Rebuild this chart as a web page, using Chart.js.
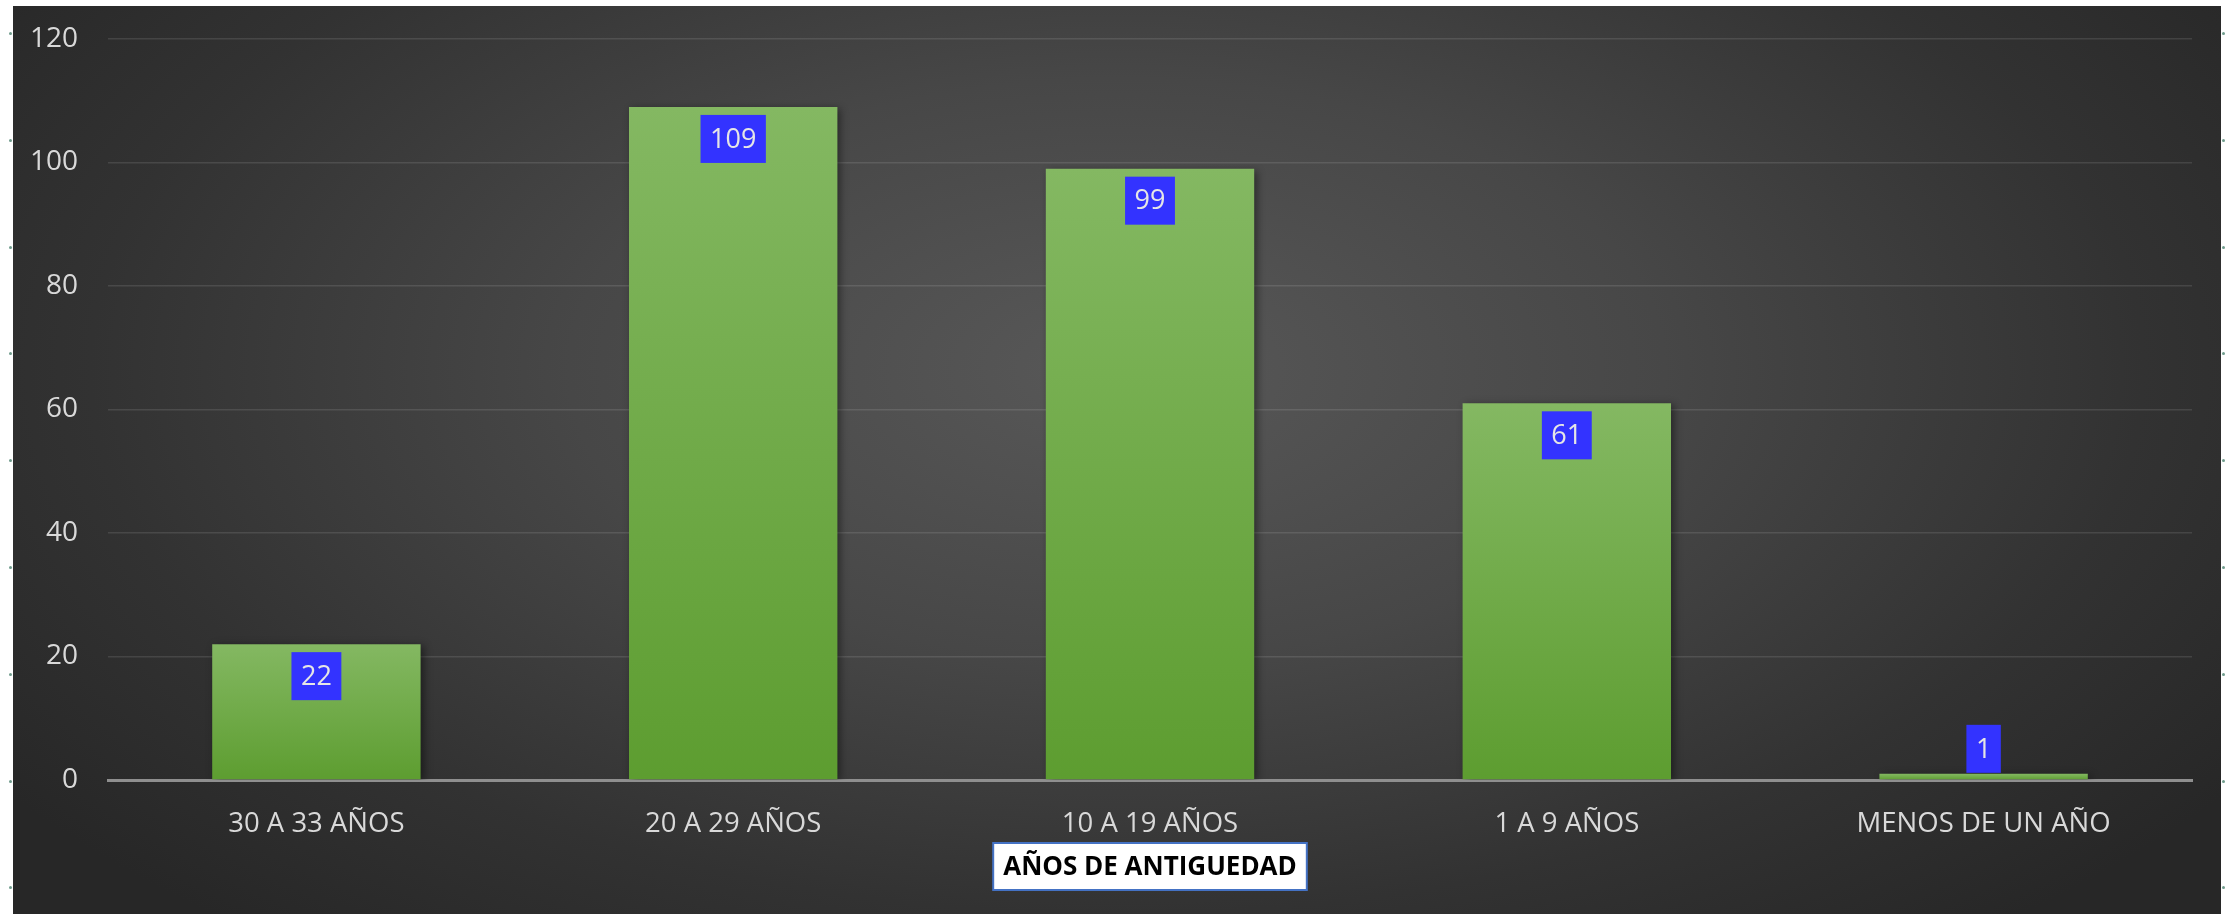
<!DOCTYPE html>
<html>
<head>
<meta charset="utf-8">
<script src="https://cdn.jsdelivr.net/npm/chart.js@4"></script>
<style>
    html, body { margin: 0; padding: 0; background: #ffffff; }
    body { width: 2233px; height: 914px; position: relative; overflow: hidden; }
    #panel {
        position: absolute; left: 13px; top: 6px; width: 2208px; height: 908px;
        background: radial-gradient(ellipse 62% 80% at 50% 40%, #585858 0%, #474747 40%, #323232 75%, #272727 100%);
    }
    .handle { position: absolute; width: 3px; height: 3px; border-radius: 50%; background: #6f9c8c; }
</style>
</head>
<body>
<div id="panel"><canvas id="antiguedadChart"></canvas></div>
<script>
// Datos del gráfico
const categorias = ['30 A 33 AÑOS', '20 A 29 AÑOS', '10 A 19 AÑOS', '1 A 9 AÑOS', 'MENOS DE UN AÑO'];
const cantidades = [22, 109, 99, 61, 1];
const tituloEjeX = 'AÑOS DE ANTIGUEDAD';

const fuente = '"Open Sans", "Noto Sans", sans-serif';

// Puntos de selección a los lados
for (let i = 0; i < 9; i++) {
    [9, 2222].forEach(x => {
        const d = document.createElement('div');
        d.className = 'handle';
        d.style.left = x + 'px';
        d.style.top = (32 + i * 106.8) + 'px';
        document.body.appendChild(d);
    });
}

// Degradado vertical de cada barra
function colorBarra(context) {
    const chart = context.chart;
    const y = chart.scales.y;
    if (!y || context.parsed == null) return '#6faa45';
    const top = y.getPixelForValue(context.parsed.y);
    const base = y.getPixelForValue(0);
    if (!isFinite(top) || !isFinite(base) || base - top < 1) return '#78b455';
    const g = chart.ctx.createLinearGradient(0, top, 0, base);
    g.addColorStop(0, '#84b862');
    g.addColorStop(1, '#5d9d30');
    return g;
}

// Sombra de las barras
const sombraBarras = {
    id: 'sombraBarras',
    beforeDatasetsDraw(chart) {
        const ctx = chart.ctx;
        ctx.save();
        ctx.shadowColor = 'rgba(0,0,0,0.45)';
        ctx.shadowBlur = 8;
        ctx.shadowOffsetX = 3;
        ctx.shadowOffsetY = 2;
    },
    afterDatasetsDraw(chart) {
        chart.ctx.restore();
    }
};

// Etiquetas de valor en cajas azules
const etiquetasValor = {
    id: 'etiquetasValor',
    afterDatasetsDraw(chart) {
        const ctx = chart.ctx;
        const meta = chart.getDatasetMeta(0);
        ctx.save();
        ctx.font = '27px ' + fuente;
        ctx.textAlign = 'center';
        ctx.textBaseline = 'middle';
        meta.data.forEach((bar, i) => {
            const texto = String(cantidades[i]);
            const w = ctx.measureText(texto).width + 19;
            const h = 48;
            const alto = bar.base - bar.y;
            let top = bar.y + 8;
            if (alto < h + 16) top = bar.y - h - 1;
            ctx.fillStyle = '#3333ff';
            ctx.fillRect(bar.x - w / 2, top, w, h);
            ctx.fillStyle = '#e6e6e6';
            ctx.fillText(texto, bar.x, top + h / 2 + 1);
        });
        ctx.restore();
    }
};

// Título del eje X dentro de un recuadro
const tituloRecuadro = {
    id: 'tituloRecuadro',
    afterDraw(chart) {
        const ctx = chart.ctx;
        const area = chart.chartArea;
        ctx.save();
        ctx.font = 'bold 26px ' + fuente;
        const w = ctx.measureText(tituloEjeX).width + 20;
        const h = 47;
        const cx = (area.left + area.right) / 2;
        const top = area.bottom + 63;
        ctx.fillStyle = '#ffffff';
        ctx.fillRect(cx - w / 2, top, w, h);
        ctx.strokeStyle = '#4472c4';
        ctx.lineWidth = 2;
        ctx.strokeRect(cx - w / 2, top, w, h);
        ctx.fillStyle = '#000000';
        ctx.textAlign = 'center';
        ctx.textBaseline = 'middle';
        ctx.fillText(tituloEjeX, cx, top + h / 2 + 1);
        ctx.restore();
    }
};

const ctx = document.getElementById('antiguedadChart').getContext('2d');
new Chart(ctx, {
    type: 'bar',
    data: {
        labels: categorias,
        datasets: [{
            data: cantidades,
            backgroundColor: colorBarra,
            borderWidth: 0,
            categoryPercentage: 1,
            barPercentage: 0.5
        }]
    },
    options: {
        responsive: true,
        maintainAspectRatio: false,
        animation: false,
        layout: {
            padding: { top: 33, right: 29, bottom: 0, left: 0 }
        },
        plugins: {
            legend: { display: false },
            tooltip: { enabled: false }
        },
        scales: {
            x: {
                grid: { display: false },
                border: { display: true, color: '#8f8f8f', width: 3 },
                ticks: {
                    color: '#d9d9d9',
                    font: { family: fuente, size: 27.5 },
                    padding: 20,
                    maxRotation: 0
                },
                afterFit(scale) { scale.height = 134; }
            },
            y: {
                min: 0,
                max: 120,
                grid: {
                    color: 'rgba(255,255,255,0.11)',
                    lineWidth: 1.5,
                    drawTicks: false
                },
                border: { display: false },
                ticks: {
                    stepSize: 20,
                    color: '#d9d9d9',
                    font: { family: fuente, size: 28 },
                    padding: 30
                },
                afterFit(scale) {
                    scale.width = 95;
                    scale.paddingTop = 0;
                    scale.paddingBottom = 0;
                }
            }
        }
    },
    plugins: [sombraBarras, etiquetasValor, tituloRecuadro]
});
</script>
</body>
</html>
